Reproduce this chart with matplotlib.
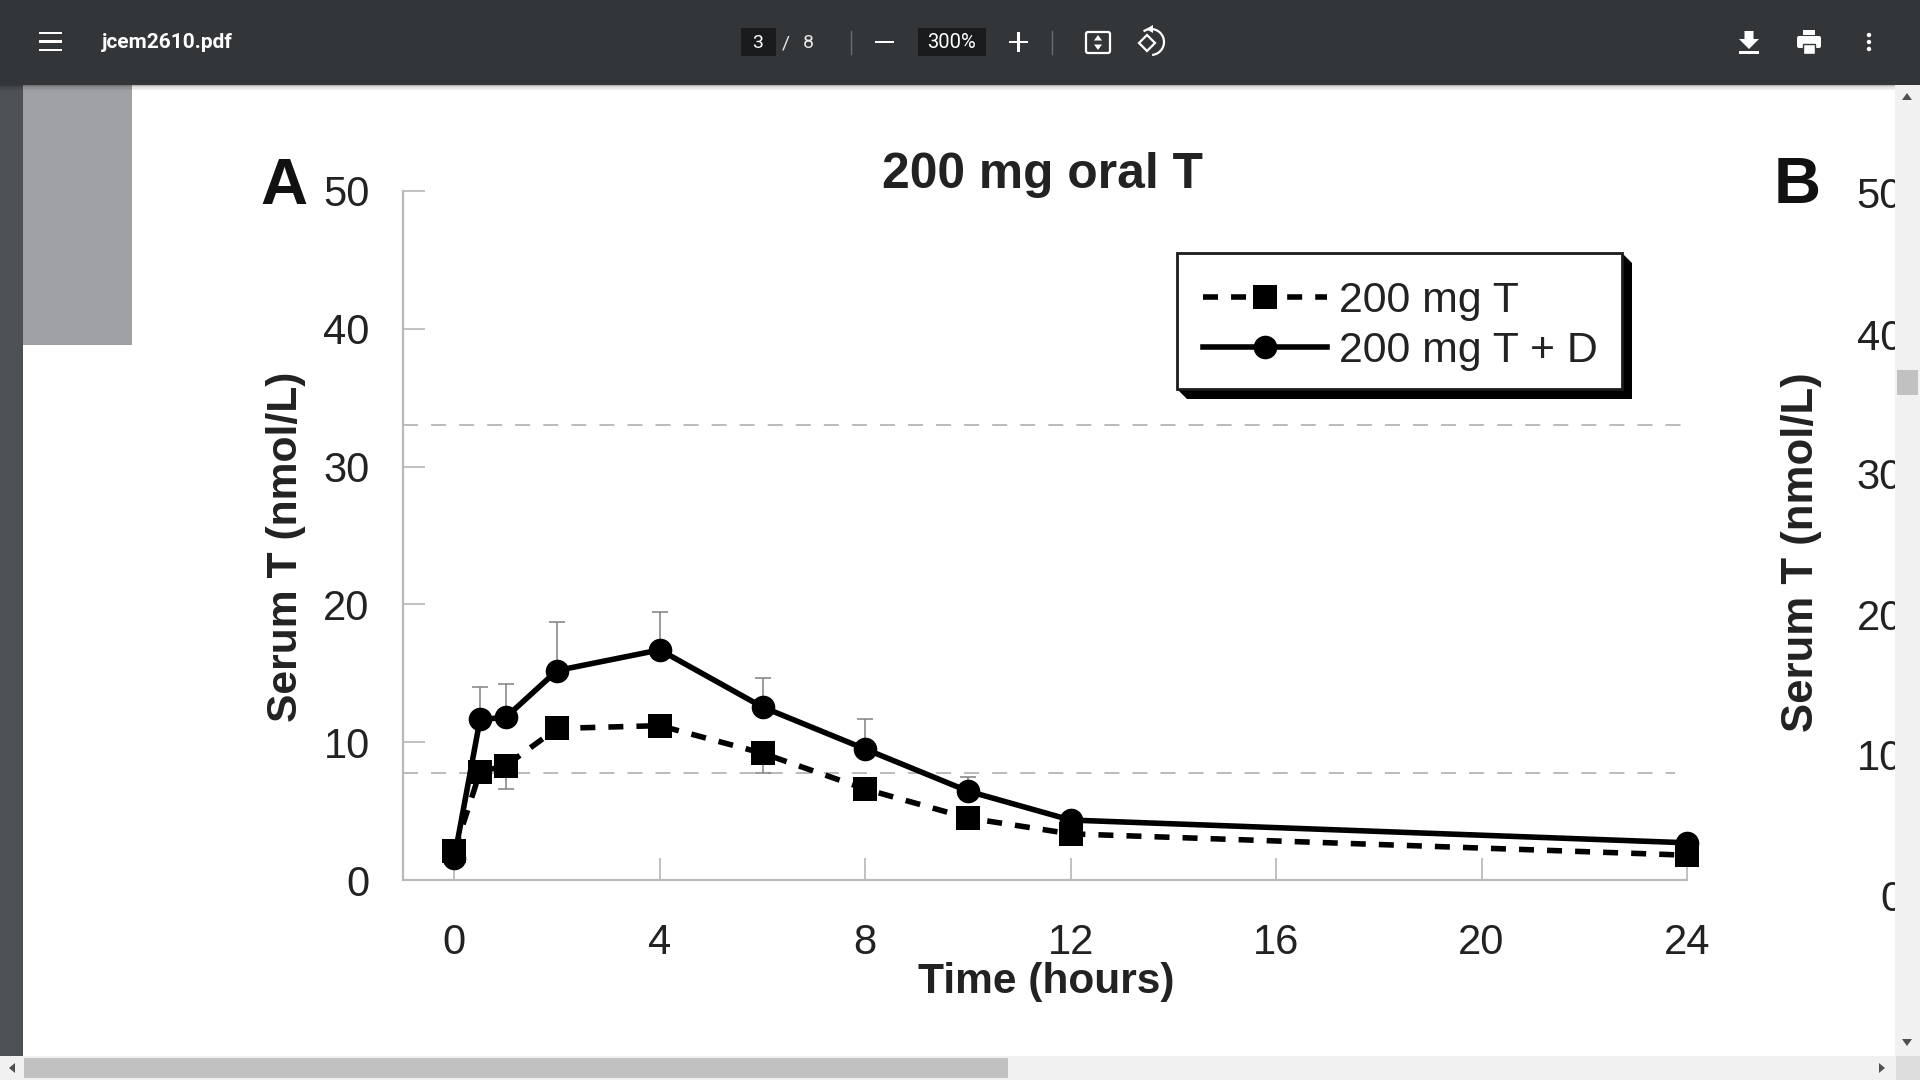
import matplotlib
matplotlib.use('Agg')
import matplotlib.pyplot as plt
from matplotlib.patches import Rectangle, FancyBboxPatch, Polygon, Circle, Arc

plt.rcParams['font.family'] = ['Liberation Sans', 'DejaVu Sans']
plt.rcParams['lines.scale_dashes'] = False

# values
hours = [0, 0.5, 1, 2, 4, 6, 8, 10, 12, 24]
t_only = [2.1, 7.85, 8.3, 11.0, 11.2, 9.2, 6.6, 4.5, 3.35, 1.8]
t_plus_d = [1.6, 11.65, 11.8, 15.2, 16.7, 12.55, 9.5, 6.45, 4.35, 2.7]
t_only_err_down = [0, 0, 1.7, 0, 0, 1.4, 0, 0, 0, 0]
t_plus_d_err_up = [0, 2.35, 2.4, 3.5, 2.75, 2.1, 2.15, 1.05, 0, 0]
normal_range = [33.05, 7.77]
normal_range_end = [24, 23.77]

x_ticks = [0, 4, 8, 12, 16, 20, 24]
y_ticks = [0, 10, 20, 30, 40, 50]
panel_b_ticks = ['50', '40', '30', '20', '10', '0']
panel_b_tick_y = [197, 339, 478, 619, 759, 900]

W, H = 1920, 1080
TEXT = '#222222'
BAR = '#323639'

fig = plt.figure(figsize=(W / 100, H / 100), dpi=100, facecolor='white')


def pixel_axes(zorder):
    a = fig.add_axes([0, 0, 1, 1], zorder=zorder)
    a.set_xlim(0, W)
    a.set_ylim(H, 0)
    a.axis('off')
    a.patch.set_alpha(0)
    return a


# page behind the chart, with the cut off panel B
back = pixel_axes(0)
back.add_patch(Rectangle((23, 84), 109, 261, color='#9fa0a3', lw=0))
back.text(284, 187, 'A', fontsize=47, fontweight='bold', color='#111111', ha='center', va='center')
back.text(1797, 186, 'B', fontsize=47, fontweight='bold', color='#111111', ha='center', va='center')
back.text(1042, 175, '200 mg oral T', fontsize=35.8, fontweight='bold', color=TEXT, ha='center', va='center')
back.text(286, 547, 'Serum T (nmol/L)', fontsize=30.7, fontweight='bold', color=TEXT,
          rotation=90, ha='center', va='center')
back.text(1802, 552, 'Serum T (nmol/L)', fontsize=31.5, fontweight='bold', color=TEXT,
          rotation=90, ha='center', va='center')
back.text(1046, 982, 'Time (hours)', fontsize=30.6, fontweight='bold', color=TEXT, ha='center', va='center')
for label, y in zip(panel_b_ticks, panel_b_tick_y):
    back.text(1903, y, label, fontsize=30, color=TEXT, ha='right', va='center')

# legend box with its hard shadow
back.add_patch(Polygon([(1622, 253), (1632, 263), (1632, 399), (1187, 399), (1177, 389)], color='black', lw=0))
back.add_patch(Rectangle((1177, 253), 445, 136, facecolor='white', edgecolor='#1c1c1c', lw=2))

# the chart itself
ax = fig.add_axes([403 / W, 1 - 880 / H, (1687 - 403) / W, (880 - 191) / H], zorder=1)
ax.patch.set_alpha(0)
ax.set_xlim(-1, 24)
ax.set_ylim(0, 50)
for side in ['top', 'right']:
    ax.spines[side].set_visible(False)
for side in ['left', 'bottom']:
    ax.spines[side].set_color('#b9b9b9')
    ax.spines[side].set_linewidth(1.6)
ax.set_xticks(x_ticks)
ax.set_yticks(y_ticks)
ax.tick_params(axis='both', direction='in', length=16, width=1.1, color='#b0b0b0',
               labelsize=30, labelcolor=TEXT)
ax.tick_params(axis='x', pad=31)
ax.tick_params(axis='y', pad=24)

for level, end in zip(normal_range, normal_range_end):
    ax.plot([-1, end], [level, level], color='#a8a8a8', lw=1.1, linestyle=(0, (10.8, 9.4)), zorder=2)

ax.errorbar(hours, t_plus_d, yerr=[[0] * len(hours), t_plus_d_err_up], fmt='none',
            ecolor='#808080', elinewidth=1.1, capsize=5.8, capthick=1.1, zorder=3)
ax.errorbar(hours, t_only, yerr=[t_only_err_down, [0] * len(hours)], fmt='none',
            ecolor='#808080', elinewidth=1.1, capsize=5.8, capthick=1.1, zorder=3)
line_t, = ax.plot(hours, t_only, color='black', lw=4, linestyle=(0, (10.8, 9.4)),
                  marker='s', markersize=17.5, markeredgewidth=0, label='200 mg T', zorder=4, clip_on=False)
line_d, = ax.plot(hours, t_plus_d, color='black', lw=4, marker='o', markersize=17,
                  markeredgewidth=0, label='200 mg T + D', zorder=5, clip_on=False)

leg = ax.legend(handles=[line_t, line_d], loc='upper left', frameon=False, fontsize=30.8,
                bbox_to_anchor=(1202.5 / W, 1 - 281 / H), bbox_transform=fig.transFigure,
                borderpad=0, borderaxespad=0, handlelength=2.9, handletextpad=0.28,
                labelspacing=0.236, numpoints=1, labelcolor=TEXT)
leg.set_zorder(10)

# viewer chrome on top
top = pixel_axes(3)
top.add_patch(Rectangle((0, 84), 23, H - 84, color='#4d5154', lw=0))
for i, a in enumerate([0.28, 0.18, 0.1, 0.05]):
    top.add_patch(Rectangle((0, 84 + i * 1.5), W, 1.5, color='black', alpha=a, lw=0))
top.add_patch(Rectangle((0, 0), W, 84.5, color=BAR, lw=0))

for y in [33, 41.5, 50]:
    top.add_patch(Rectangle((39, y - 1.3), 23, 2.6, color='white', lw=0))
top.text(102, 43, 'jcem2610.pdf', fontsize=15, fontfamily='Roboto', fontweight='bold', color='white',
         ha='left', va='center')

for x0, x1 in [(741, 776), (918, 986)]:
    top.add_patch(Rectangle((x0, 28), x1 - x0, 28, color='#191b1c', lw=0))
top.text(758, 43, '3', fontsize=14, fontfamily='Roboto', color='white', ha='center', va='center')
top.text(786, 43, '/', fontsize=14, fontfamily='Roboto', color='#e8e8e8', ha='center', va='center')
top.text(808, 43, '8', fontsize=14, fontfamily='Roboto', color='#e8e8e8', ha='center', va='center')
top.text(952, 43, '300%', fontsize=14.5, fontfamily='Roboto', color='white', ha='center', va='center')
for x in [851, 1052]:
    top.plot([x, x], [31, 54], color='#6b6e71', lw=1)
top.add_patch(Rectangle((875, 41), 19, 2.4, color='white', lw=0))
top.add_patch(Rectangle((1009, 41), 19, 2.4, color='white', lw=0))
top.add_patch(Rectangle((1017.3, 32), 2.4, 20, color='white', lw=0))

# fit to page icon
top.add_patch(FancyBboxPatch((1086, 32), 24, 21, boxstyle='round,pad=0,rounding_size=2',
                             facecolor='none', edgecolor='white', lw=1.6))
top.add_patch(Polygon([(1098, 35), (1102, 40.5), (1094, 40.5)], color='white', lw=0))
top.add_patch(Polygon([(1098, 50), (1102, 44.5), (1094, 44.5)], color='white', lw=0))

# rotate icon
top.add_patch(Polygon([(1139, 43), (1147, 35), (1155, 43), (1147, 51)], facecolor='none',
                      edgecolor='white', lw=1.6))
top.add_patch(Arc((1151, 42), 26, 26, theta1=-125, theta2=85, color='white', lw=1.6))
top.add_patch(Polygon([(1146, 29), (1153, 25), (1153, 33)], color='white', lw=0))

# download icon
top.add_patch(Polygon([(1744.5, 31), (1753.5, 31), (1753.5, 39), (1759, 39), (1749, 49), (1739, 39),
                       (1744.5, 39)], color='white', lw=0))
top.add_patch(Rectangle((1739, 51), 20, 2.6, color='white', lw=0))

# print icon
top.add_patch(Rectangle((1803, 30), 12, 5, color='white', lw=0))
top.add_patch(FancyBboxPatch((1797, 36), 24, 12, boxstyle='round,pad=0,rounding_size=2', color='white', lw=0))
top.add_patch(Rectangle((1803, 44), 12, 10, facecolor='white', edgecolor=BAR, lw=1))

# more icon
for y in [35, 42, 49]:
    top.add_patch(Circle((1869, y), 2.2, color='white', lw=0))

# scrollbars
top.add_patch(Rectangle((1895, 84.5), 25, H - 84.5, color='#f1f1f1', lw=0))
top.add_patch(Rectangle((0, 1056), W, 24, color='#f1f1f1', lw=0))
top.add_patch(Rectangle((1896, 1056), 24, 24, color='#dcdcdc', lw=0))
top.add_patch(Rectangle((1897, 370), 21, 25, color='#c1c1c1', lw=0))
top.add_patch(Rectangle((24, 1058), 984, 20, color='#c1c1c1', lw=0))
top.add_patch(Polygon([(1907, 93), (1902, 100), (1912, 100)], color='#505050', lw=0))
top.add_patch(Polygon([(1907, 1046), (1902, 1039), (1912, 1039)], color='#505050', lw=0))
top.add_patch(Polygon([(9, 1068), (15, 1063), (15, 1073)], color='#505050', lw=0))
top.add_patch(Polygon([(1885, 1068), (1879, 1063), (1879, 1073)], color='#505050', lw=0))
top.set_xlim(0, W)
top.set_ylim(H, 0)

fig.savefig('out.png', dpi=100, facecolor='white')
plt.close(fig)
